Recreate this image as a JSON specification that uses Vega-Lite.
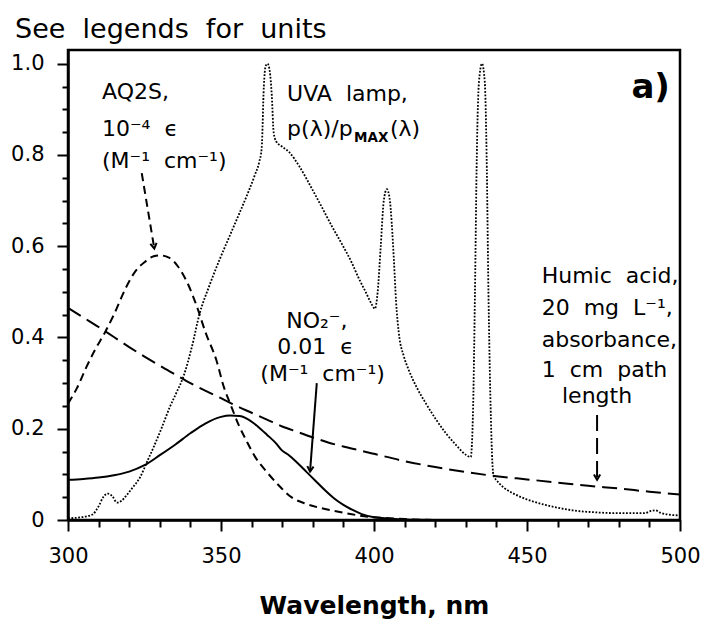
{
  "$schema": "https://vega.github.io/schema/vega-lite/v6.json",
  "width": 612,
  "height": 470,
  "autosize": "none",
  "padding": {"left": 68, "top": 50, "right": 24, "bottom": 101},
  "config": {
    "font": "DejaVu Sans",
    "view": {"stroke": "black", "strokeWidth": 2.5},
    "background": "white"
  },
  "title": {
    "text": "See\u00a0 legends\u00a0 for\u00a0 units",
    "anchor": "start",
    "frame": "group",
    "dx": -53,
    "dy": 27,
    "offset": 12,
    "fontSize": 27,
    "fontWeight": "normal",
    "baseline": "alphabetic",
    "color": "black",
    "font": "DejaVu Sans"
  },
  "datasets": {
    "curves": [
      {"s":"AQ2S","wl":300,"v":0.255},{"s":"AQ2S","wl":303,"v":0.29},{"s":"AQ2S","wl":306,"v":0.335},{"s":"AQ2S","wl":309,"v":0.375},{"s":"AQ2S","wl":312,"v":0.41},{"s":"AQ2S","wl":315,"v":0.45},{"s":"AQ2S","wl":319,"v":0.51},{"s":"AQ2S","wl":322,"v":0.545},{"s":"AQ2S","wl":325,"v":0.565},{"s":"AQ2S","wl":328,"v":0.578},{"s":"AQ2S","wl":330,"v":0.58},{"s":"AQ2S","wl":333,"v":0.575},{"s":"AQ2S","wl":336,"v":0.555},{"s":"AQ2S","wl":339,"v":0.52},{"s":"AQ2S","wl":342,"v":0.47},{"s":"AQ2S","wl":345,"v":0.41},{"s":"AQ2S","wl":348.5,"v":0.35},{"s":"AQ2S","wl":351,"v":0.29},{"s":"AQ2S","wl":353,"v":0.255},{"s":"AQ2S","wl":356,"v":0.205},{"s":"AQ2S","wl":358,"v":0.178},{"s":"AQ2S","wl":361,"v":0.14},{"s":"AQ2S","wl":365,"v":0.105},{"s":"AQ2S","wl":369,"v":0.075},{"s":"AQ2S","wl":373,"v":0.05},{"s":"AQ2S","wl":378,"v":0.035},{"s":"AQ2S","wl":384,"v":0.024},{"s":"AQ2S","wl":390,"v":0.016},{"s":"AQ2S","wl":395,"v":0.01},{"s":"AQ2S","wl":400,"v":0.006},{"s":"AQ2S","wl":405,"v":0.004},{"s":"AQ2S","wl":410,"v":0.002},{"s":"AQ2S","wl":420,"v":0.0},
      {"s":"NO2","wl":300,"v":0.088},{"s":"NO2","wl":305,"v":0.09},{"s":"NO2","wl":310,"v":0.093},{"s":"NO2","wl":315,"v":0.098},{"s":"NO2","wl":320,"v":0.106},{"s":"NO2","wl":325,"v":0.12},{"s":"NO2","wl":330,"v":0.142},{"s":"NO2","wl":335,"v":0.165},{"s":"NO2","wl":340,"v":0.19},{"s":"NO2","wl":345,"v":0.212},{"s":"NO2","wl":350,"v":0.226},{"s":"NO2","wl":353,"v":0.229},{"s":"NO2","wl":356,"v":0.228},{"s":"NO2","wl":359,"v":0.22},{"s":"NO2","wl":362,"v":0.205},{"s":"NO2","wl":365,"v":0.187},{"s":"NO2","wl":368,"v":0.168},{"s":"NO2","wl":370,"v":0.152},{"s":"NO2","wl":372,"v":0.143},{"s":"NO2","wl":375,"v":0.125},{"s":"NO2","wl":378,"v":0.105},{"s":"NO2","wl":381,"v":0.085},{"s":"NO2","wl":384,"v":0.065},{"s":"NO2","wl":387,"v":0.047},{"s":"NO2","wl":390,"v":0.033},{"s":"NO2","wl":393,"v":0.022},{"s":"NO2","wl":396,"v":0.013},{"s":"NO2","wl":400,"v":0.006},{"s":"NO2","wl":405,"v":0.003},{"s":"NO2","wl":410,"v":0.001},{"s":"NO2","wl":420,"v":0.0},
      {"s":"HA","wl":300,"v":0.465},{"s":"HA","wl":305,"v":0.444},{"s":"HA","wl":310,"v":0.423},{"s":"HA","wl":315,"v":0.401},{"s":"HA","wl":320,"v":0.379},{"s":"HA","wl":325,"v":0.358},{"s":"HA","wl":330,"v":0.338},{"s":"HA","wl":335,"v":0.319},{"s":"HA","wl":340,"v":0.3},{"s":"HA","wl":345,"v":0.283},{"s":"HA","wl":350,"v":0.267},{"s":"HA","wl":355,"v":0.25},{"s":"HA","wl":360,"v":0.235},{"s":"HA","wl":365,"v":0.22},{"s":"HA","wl":370,"v":0.205},{"s":"HA","wl":375,"v":0.193},{"s":"HA","wl":380,"v":0.181},{"s":"HA","wl":385,"v":0.17},{"s":"HA","wl":390,"v":0.161},{"s":"HA","wl":395,"v":0.153},{"s":"HA","wl":400,"v":0.145},{"s":"HA","wl":410,"v":0.129},{"s":"HA","wl":420,"v":0.116},{"s":"HA","wl":430,"v":0.105},{"s":"HA","wl":440,"v":0.096},{"s":"HA","wl":450,"v":0.089},{"s":"HA","wl":460,"v":0.082},{"s":"HA","wl":470,"v":0.075},{"s":"HA","wl":480,"v":0.069},{"s":"HA","wl":490,"v":0.062},{"s":"HA","wl":500,"v":0.056},
      {"s":"UVA","wl":300,"v":0.004},{"s":"UVA","wl":303,"v":0.005},{"s":"UVA","wl":306,"v":0.008},{"s":"UVA","wl":308,"v":0.012},{"s":"UVA","wl":310,"v":0.03},{"s":"UVA","wl":311.5,"v":0.05},{"s":"UVA","wl":313,"v":0.058},{"s":"UVA","wl":314.5,"v":0.052},{"s":"UVA","wl":316,"v":0.038},{"s":"UVA","wl":317.5,"v":0.042},{"s":"UVA","wl":319,"v":0.053},{"s":"UVA","wl":321,"v":0.07},{"s":"UVA","wl":323.5,"v":0.093},{"s":"UVA","wl":326,"v":0.13},{"s":"UVA","wl":328,"v":0.16},{"s":"UVA","wl":330.5,"v":0.2},{"s":"UVA","wl":333.3,"v":0.248},{"s":"UVA","wl":335.5,"v":0.28},{"s":"UVA","wl":337.7,"v":0.314},{"s":"UVA","wl":340.5,"v":0.38},{"s":"UVA","wl":343,"v":0.452},{"s":"UVA","wl":346,"v":0.51},{"s":"UVA","wl":349.5,"v":0.57},{"s":"UVA","wl":353,"v":0.625},{"s":"UVA","wl":356,"v":0.672},{"s":"UVA","wl":359,"v":0.72},{"s":"UVA","wl":361,"v":0.755},{"s":"UVA","wl":362.5,"v":0.785},{"s":"UVA","wl":363.3,"v":0.815},{"s":"UVA","wl":364,"v":0.95},{"s":"UVA","wl":364.6,"v":0.995},{"s":"UVA","wl":365.2,"v":1.0},{"s":"UVA","wl":365.9,"v":0.985},{"s":"UVA","wl":366.6,"v":0.93},{"s":"UVA","wl":367.2,"v":0.85},{"s":"UVA","wl":368,"v":0.83},{"s":"UVA","wl":370,"v":0.818},{"s":"UVA","wl":372.3,"v":0.806},{"s":"UVA","wl":375.6,"v":0.775},{"s":"UVA","wl":379.8,"v":0.725},{"s":"UVA","wl":383,"v":0.685},{"s":"UVA","wl":386.3,"v":0.643},{"s":"UVA","wl":389.5,"v":0.605},{"s":"UVA","wl":392.8,"v":0.563},{"s":"UVA","wl":395,"v":0.53},{"s":"UVA","wl":397.4,"v":0.498},{"s":"UVA","wl":399,"v":0.476},{"s":"UVA","wl":400.3,"v":0.463},{"s":"UVA","wl":401.2,"v":0.5},{"s":"UVA","wl":402.2,"v":0.6},{"s":"UVA","wl":403.2,"v":0.7},{"s":"UVA","wl":404.2,"v":0.725},{"s":"UVA","wl":405.1,"v":0.705},{"s":"UVA","wl":405.8,"v":0.65},{"s":"UVA","wl":406.5,"v":0.57},{"s":"UVA","wl":407.2,"v":0.48},{"s":"UVA","wl":408.2,"v":0.405},{"s":"UVA","wl":409.7,"v":0.36},{"s":"UVA","wl":411.4,"v":0.328},{"s":"UVA","wl":414,"v":0.29},{"s":"UVA","wl":417,"v":0.255},{"s":"UVA","wl":420,"v":0.223},{"s":"UVA","wl":423.5,"v":0.19},{"s":"UVA","wl":427,"v":0.163},{"s":"UVA","wl":430,"v":0.143},{"s":"UVA","wl":431.6,"v":0.138},{"s":"UVA","wl":432.4,"v":0.25},{"s":"UVA","wl":433,"v":0.5},{"s":"UVA","wl":433.6,"v":0.8},{"s":"UVA","wl":434.3,"v":0.96},{"s":"UVA","wl":435.3,"v":1.0},{"s":"UVA","wl":436.2,"v":0.96},{"s":"UVA","wl":436.8,"v":0.8},{"s":"UVA","wl":437.4,"v":0.5},{"s":"UVA","wl":438.1,"v":0.25},{"s":"UVA","wl":439,"v":0.1},{"s":"UVA","wl":441,"v":0.08},{"s":"UVA","wl":443,"v":0.068},{"s":"UVA","wl":445,"v":0.06},{"s":"UVA","wl":450,"v":0.045},{"s":"UVA","wl":456,"v":0.033},{"s":"UVA","wl":460,"v":0.027},{"s":"UVA","wl":465,"v":0.021},{"s":"UVA","wl":472,"v":0.017},{"s":"UVA","wl":480,"v":0.015},{"s":"UVA","wl":488.5,"v":0.015},{"s":"UVA","wl":490.5,"v":0.02},{"s":"UVA","wl":492,"v":0.021},{"s":"UVA","wl":493.5,"v":0.016},{"s":"UVA","wl":496,"v":0.012},{"s":"UVA","wl":500,"v":0.01}
    ],
    "arrows": [
      {"id":"aq","k":0,"wl":324.1,"v":0.76},{"id":"aq","k":1,"wl":328.2,"v":0.595},
      {"id":"no2","k":0,"wl":381.3,"v":0.3},{"id":"no2","k":1,"wl":379.1,"v":0.106},
      {"id":"hum","k":0,"wl":472.9,"v":0.23},{"id":"hum","k":1,"wl":472.9,"v":0.088}
    ],
    "labels": [
      {"g":"left","t":"AQ2S,","wl":311.1,"v":0.923},
      {"g":"left","t":"10⁻⁴\u00a0 ϵ","wl":311.1,"v":0.842},
      {"g":"left","t":"(M⁻¹\u00a0 cm⁻¹)","wl":311.1,"v":0.771},
      {"g":"left","t":"UVA\u00a0 lamp,","wl":371.6,"v":0.918},
      {"g":"left","t":"p(λ)/p","wl":371.6,"v":0.842},
      {"g":"sub","t":"MAX","wl":393.5,"v":0.828},
      {"g":"left","t":"(λ)","wl":405.2,"v":0.842},
      {"g":"left","t":"Humic\u00a0 acid,","wl":454.8,"v":0.519},
      {"g":"left","t":"20\u00a0 mg\u00a0 L⁻¹,","wl":454.8,"v":0.449},
      {"g":"left","t":"absorbance,","wl":454.8,"v":0.38},
      {"g":"left","t":"1\u00a0 cm\u00a0 path","wl":454.8,"v":0.314},
      {"g":"center","t":"length","wl":472.9,"v":0.256},
      {"g":"center","t":"NO₂⁻,","wl":381.3,"v":0.421},
      {"g":"center","t":"0.01\u00a0 ϵ","wl":380.9,"v":0.364},
      {"g":"center","t":"(M⁻¹\u00a0 cm⁻¹)","wl":383.2,"v":0.305},
      {"g":"big","t":"a)","wl":496.7,"v":0.924}
    ]
  },
  "encoding": {
    "x": {
      "field": "wl", "type": "quantitative",
      "scale": {"domain": [300, 500], "nice": false, "zero": false},
      "axis": {
        "values": [300,310,320,330,340,350,360,370,380,390,400,410,420,430,440,450,460,470,480,490,500],
        "labelExpr": "datum.value % 50 === 0 ? datum.label : ''",
        "format": "d",
        "grid": false,
        "tickSize": {"condition": {"test": "datum.value % 50 === 0", "value": 11}, "value": 7},
        "tickWidth": 2, "tickColor": "black",
        "domainColor": "black", "domainWidth": 2.5,
        "labelFontSize": 21, "labelColor": "black", "labelPadding": 14,
        "labelFlush": false, "labelOverlap": false,
        "title": "Wavelength, nm", "titleFontSize": 25, "titleFontWeight": "bold",
        "titleColor": "black", "titlePadding": 27
      }
    },
    "y": {
      "field": "v", "type": "quantitative",
      "scale": {"domain": [0, 1.03], "nice": false, "zero": false},
      "axis": {
        "values": [0,0.05,0.1,0.15,0.2,0.25,0.3,0.35,0.4,0.45,0.5,0.55,0.6,0.65,0.7,0.75,0.8,0.85,0.9,0.95,1.0],
        "labelExpr": "abs(datum.value*5 - round(datum.value*5)) < 0.001 ? (datum.value === 0 ? '0' : format(datum.value, '.1f')) : ''",
        "grid": false,
        "tickSize": {"condition": {"test": "abs(datum.value*5 - round(datum.value*5)) < 0.001", "value": 11}, "value": 6},
        "tickWidth": 2, "tickColor": "black",
        "domainColor": "black", "domainWidth": 2.5,
        "labelFontSize": 21, "labelColor": "black", "labelPadding": 13,
        "labelFlush": false, "labelOverlap": false,
        "title": null
      }
    }
  },
  "layer": [
    {"data": {"name": "curves"}, "transform": [{"filter": "datum.s === 'AQ2S'"}],
     "mark": {"type": "line", "color": "black", "strokeWidth": 2, "strokeDash": [8, 5], "interpolate": "monotone"}},
    {"data": {"name": "curves"}, "transform": [{"filter": "datum.s === 'NO2'"}],
     "mark": {"type": "line", "color": "black", "strokeWidth": 2, "interpolate": "monotone"}},
    {"data": {"name": "curves"}, "transform": [{"filter": "datum.s === 'HA'"}],
     "mark": {"type": "line", "color": "black", "strokeWidth": 2, "strokeDash": [15, 7], "interpolate": "monotone"}},
    {"data": {"name": "curves"}, "transform": [{"filter": "datum.s === 'UVA'"}],
     "mark": {"type": "line", "color": "black", "strokeWidth": 1.8, "strokeDash": [1.8, 1.6], "interpolate": "monotone"}},
    {"data": {"name": "arrows"}, "transform": [{"filter": "datum.id === 'aq'"}],
     "mark": {"type": "line", "color": "black", "strokeWidth": 2, "strokeDash": [8, 5]},
     "encoding": {"order": {"field": "k"}}},
    {"data": {"name": "arrows"}, "transform": [{"filter": "datum.id === 'no2'"}],
     "mark": {"type": "line", "color": "black", "strokeWidth": 2},
     "encoding": {"order": {"field": "k"}}},
    {"data": {"name": "arrows"}, "transform": [{"filter": "datum.id === 'hum'"}],
     "mark": {"type": "line", "color": "black", "strokeWidth": 2, "strokeDash": [16, 7]},
     "encoding": {"order": {"field": "k"}}},
    {"data": {"name": "arrows"}, "transform": [{"filter": "datum.id === 'aq' && datum.k === 1"}],
     "mark": {"type": "point", "shape": "M -0.9 -1.5 L 0 0 L 0.9 -1.5", "filled": false, "stroke": "black", "strokeWidth": 2, "size": 49, "angle": 350.6, "opacity": 1}},
    {"data": {"name": "arrows"}, "transform": [{"filter": "datum.id === 'no2' && datum.k === 1"}],
     "mark": {"type": "point", "shape": "M -0.9 -1.5 L 0 0 L 0.9 -1.5", "filled": false, "stroke": "black", "strokeWidth": 2, "size": 49, "angle": 4.3, "opacity": 1}},
    {"data": {"name": "arrows"}, "transform": [{"filter": "datum.id === 'hum' && datum.k === 1"}],
     "mark": {"type": "point", "shape": "M -0.9 -1.5 L 0 0 L 0.9 -1.5", "filled": false, "stroke": "black", "strokeWidth": 2, "size": 49, "angle": 0, "opacity": 1}},
    {"data": {"name": "labels"}, "transform": [{"filter": "datum.g === 'left'"}],
     "mark": {"type": "text", "align": "left", "baseline": "alphabetic", "fontSize": 22, "color": "black", "font": "DejaVu Sans"},
     "encoding": {"text": {"field": "t"}}},
    {"data": {"name": "labels"}, "transform": [{"filter": "datum.g === 'center'"}],
     "mark": {"type": "text", "align": "center", "baseline": "alphabetic", "fontSize": 22, "color": "black", "font": "DejaVu Sans"},
     "encoding": {"text": {"field": "t"}}},
    {"data": {"name": "labels"}, "transform": [{"filter": "datum.g === 'sub'"}],
     "mark": {"type": "text", "align": "left", "baseline": "alphabetic", "fontSize": 13.5, "fontWeight": "bold", "color": "black", "font": "DejaVu Sans"},
     "encoding": {"text": {"field": "t"}}},
    {"data": {"name": "labels"}, "transform": [{"filter": "datum.g === 'big'"}],
     "mark": {"type": "text", "align": "right", "baseline": "alphabetic", "fontSize": 34, "fontWeight": "bold", "color": "black", "font": "DejaVu Sans"},
     "encoding": {"text": {"field": "t"}}}
  ]
}
